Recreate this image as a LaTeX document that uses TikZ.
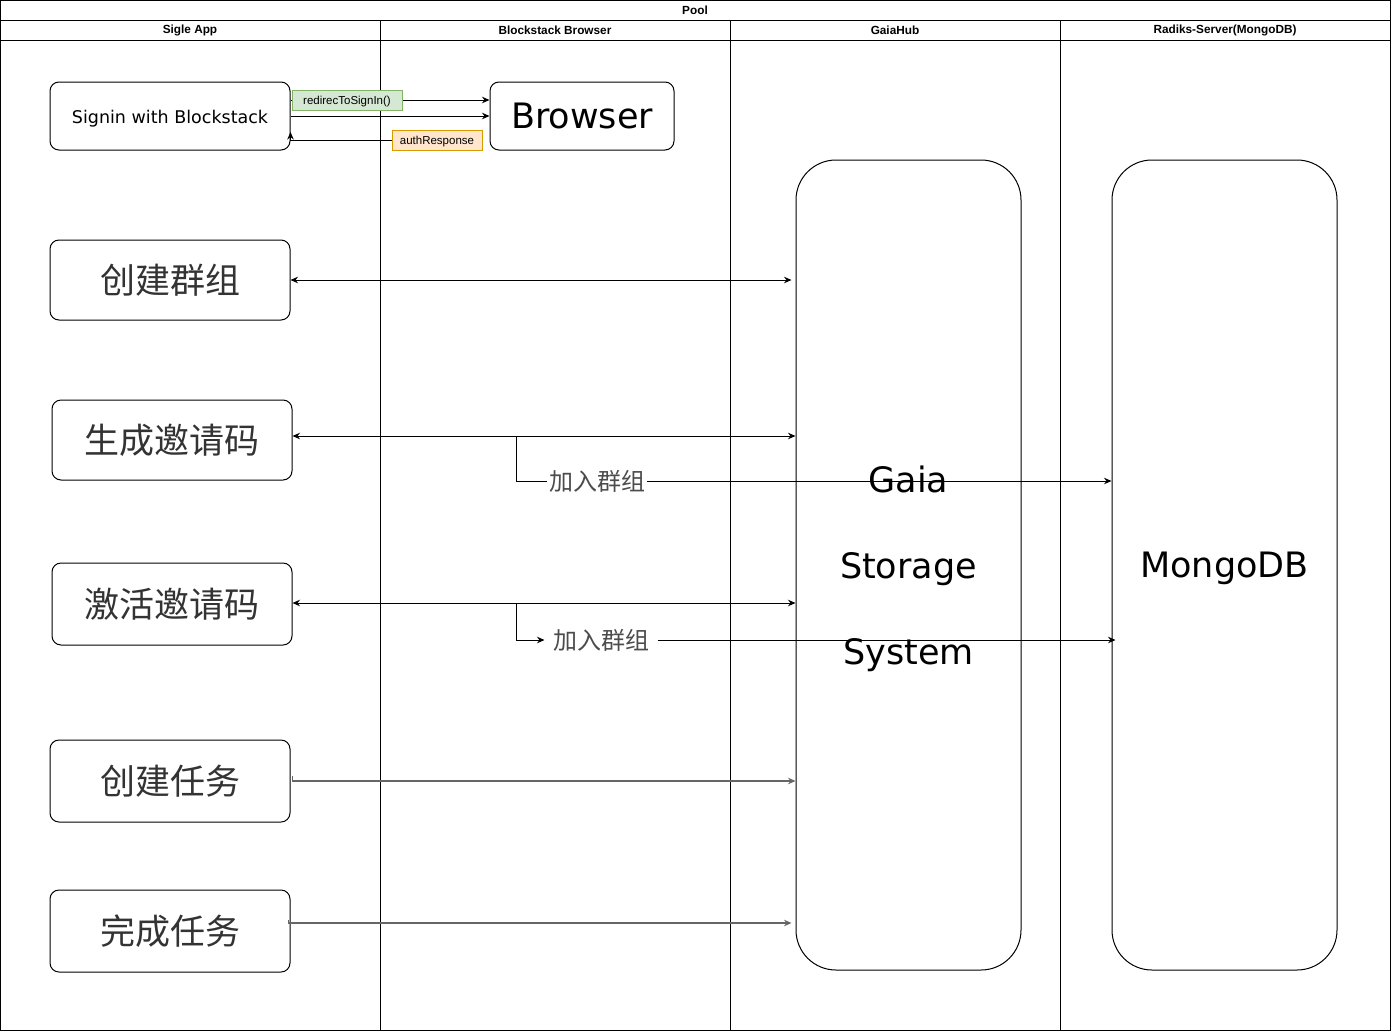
\documentclass[tikz,border=0pt]{standalone}
\usepackage{fontspec}
\setmainfont{Liberation Sans}
\newfontfamily\dv{DejaVu Sans}
\newfontfamily\cjk{Noto Sans CJK SC}
\usetikzlibrary{arrows.meta,calc}
\definecolor{gfill}{HTML}{D5E8D4}
\definecolor{gdraw}{HTML}{82B366}
\definecolor{ofill}{HTML}{FFE6CC}
\definecolor{odraw}{HTML}{D79B00}
\definecolor{gline}{HTML}{666666}
\definecolor{ctext}{HTML}{333333}
\begin{document}
\begin{tikzpicture}[x=1pt,y=-1pt,line width=1pt,
  lanelab/.style={font=\bfseries\fontsize{11.8}{13}\selectfont,inner sep=0},
  appbox/.style={draw,rounded corners=9pt,minimum width=240pt,inner sep=0},
  cjkt/.style={font=\cjk\fontsize{35}{40}\selectfont,text=ctext},
  bigt/.style={font=\dv\fontsize{35}{40}\selectfont},
  colbox/.style={draw,rounded corners=40pt,minimum width=225pt,minimum height=810pt,inner sep=0},
  arr/.style={-{Stealth[length=7.5pt,width=6.5pt]}},
  arrb/.style={{Stealth[length=7.5pt,width=6.5pt]}-{Stealth[length=7.5pt,width=6.5pt]}},
  elab/.style={font=\fontsize{11.5}{13}\selectfont,inner sep=0,minimum height=20pt,line width=0.8pt,text height=9.5pt,text depth=1pt},
  jlab/.style={font=\cjk\fontsize{24}{26}\selectfont,text=black!70,fill=white,inner ysep=1pt},
]
\useasboundingbox (0,0) rectangle (1391,1031);
% pool frame
\draw (0.5,0.5) rectangle (1390.5,1030.5);
\draw (0.5,20) -- (1390.5,20);
\draw (0.5,40) -- (1390.5,40);
\draw (380,20) -- (380,1030.5);
\draw (730,20) -- (730,1030.5);
\draw (1060,20) -- (1060,1030.5);
\node[lanelab] (pool) at (695,10.5) {Pool};
\node[lanelab] (l1) at (190,30.5) {Sigle App};
\node[lanelab] (l2) at (555,30.5) {Blockstack Browser};
\node[lanelab] (l3) at (895,30.5) {GaiaHub};
\node[lanelab] (l4) at (1225,30.5) {Radiks-Server(MongoDB)};

% boxes
\node[appbox,minimum height=68pt,font=\dv\fontsize{17.5}{20}\selectfont,text height=14.8pt,text depth=0pt] (signin) at (170,116) {Signin with Blockstack};
\node[appbox,minimum width=184pt,minimum height=68pt,bigt] (browser) at (582,116) {Browser};
\node[appbox,minimum height=80pt,cjkt] (cjqz) at (170,280) {创建群组};
\node[appbox,minimum height=80pt,cjkt] (scyqm) at (172,440) {生成邀请码};
\node[appbox,minimum height=82pt,cjkt] (jhyqm) at (172,604) {激活邀请码};
\node[appbox,minimum height=82pt,cjkt] (cjrw) at (170,781) {创建任务};
\node[appbox,minimum height=82pt,cjkt] (wcrw) at (170,931) {完成任务};
\node[colbox,font=\dv\fontsize{35}{86}\selectfont] (gaia) at (908.5,565) {\raisebox{4pt}[\height][\depth]{\begin{tabular}{@{}c@{}}Gaia\\Storage\\System\end{tabular}}};
\node[colbox,bigt,text height=25.5pt,text depth=0pt] (mongo) at (1224.5,565) {MongoDB};

% sign in edges
\draw[arr] ([yshift=16pt]signin.east) -- ([yshift=16pt]browser.west);
\node[elab,draw=gdraw,fill=gfill,minimum width=110pt] (redir) at (347,100) {redirecToSignIn()};
\draw[arr] (signin.east) -- (browser.west);
\node[elab,draw=odraw,fill=ofill,minimum width=90pt] (auth) at (437,140) {authResponse};
\draw[arr] (auth.west) -| ([yshift=-16pt]signin.east);

% group edges
\draw[arrb,shorten >=4pt] (cjqz.east) -- (cjqz.east -| gaia.west);
\draw[arrb] ([yshift=4pt]scyqm.east) -- ([yshift=4pt]scyqm.east -| gaia.west);
\coordinate (b1) at (516,436);
\draw[arr] (b1) |- ([yshift=84pt]mongo.west);
\node[jlab,inner xsep=2pt] (j1) at (597,481) {加入群组};

\draw[arrb] ([yshift=1pt]jhyqm.east) -- ([yshift=1pt]jhyqm.east -| gaia.west);
\coordinate (b2) at (516,603);
\node[jlab,inner xsep=8pt] (j2) at (601,640) {加入群组};
\draw[arr] (b2) |- (j2.west);
\draw[arr] (j2.east) -- ([xshift=4pt,yshift=-75pt]mongo.west);

% task edges
\draw[arr,gline,line width=1.3pt] ([xshift=2pt,yshift=5pt]cjrw.east) -- ([xshift=2pt]cjrw.east) -- (cjrw.east -| gaia.west);
\coordinate (w1) at ([xshift=-2pt,yshift=11pt]wcrw.east);
\coordinate (w2) at ([xshift=-2pt,yshift=8pt]wcrw.east);
\draw[arr,gline,line width=1.3pt,shorten >=4pt] (w1) -- (w2) -- (w2 -| gaia.west);
\end{tikzpicture}
\end{document}
